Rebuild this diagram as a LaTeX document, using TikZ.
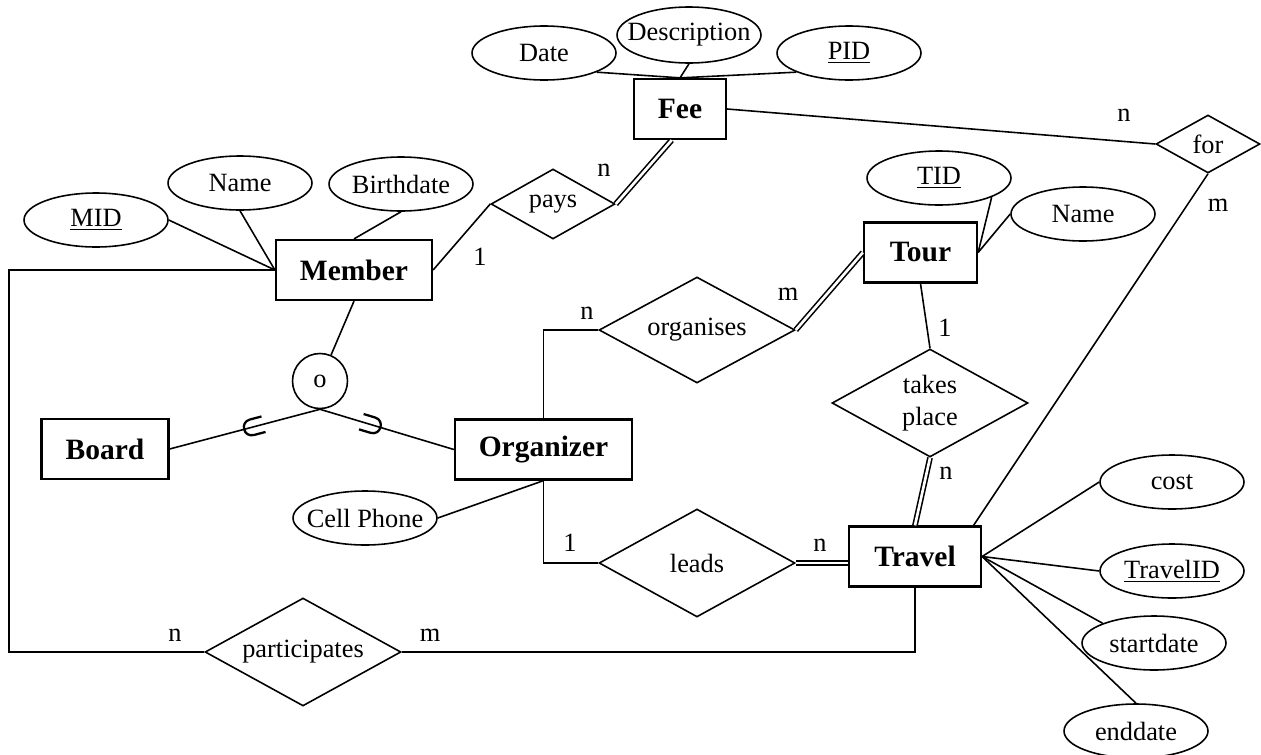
\documentclass[tikz,border=0pt]{standalone}
\usepackage{fontspec}
\setmainfont{Liberation Serif}
\usetikzlibrary{shapes.geometric}

\begin{document}
\begin{tikzpicture}[
    x=0.02cm, y=-0.02cm,
    every node/.style={font=\fontsize{15}{18}\selectfont},
    entity/.style={draw, line width=1.3pt, minimum height=1.2cm, inner sep=0pt,
      font=\fontsize{16.8}{20}\selectfont\bfseries},
    attr/.style={draw, ellipse, line width=0.9pt, minimum width=2.88cm,
      minimum height=1.08cm, inner xsep=-8pt, inner ysep=0pt},
    rel/.style={draw, diamond, line width=0.9pt, aspect=1.8,
      minimum width=3.92cm, minimum height=2.16cm, inner sep=0pt},
    link/.style={line width=0.9pt},
    total/.style={double, double distance=1.5pt, line width=0.9pt},
    subset/.pic={\draw[line width=1.3pt] (-10,-8) -- (2,-8)
      .. controls (12.7,-8) and (12.7,8) .. (2,8) -- (-10,8);}
  ]
  \useasboundingbox (0,0) rectangle (1261,754);

  % Entities
  \node[entity, minimum width=3.12cm] (member) at (354,270) {Member};
  \node[entity, minimum width=2.54cm] (board) at (105,449) {Board};
  \node[entity, minimum width=3.54cm] (organizer) at (543.5,449.5) {Organizer};
  \node[entity, minimum width=1.84cm] (fee) at (680,109) {Fee};
  \node[entity, minimum width=2.26cm] (tour) at (920.5,252.5) {Tour};
  \node[entity, minimum width=2.64cm] (travel) at (915,556.5) {Travel};

  % Attributes
  \node[attr] (mid) at (96,220) {\underline{MID}};
  \node[attr] (mname) at (240,183) {Name};
  \node[attr] (birthdate) at (401,184) {Birthdate};
  \node[attr] (date) at (544,53) {Date};
  \node[attr, minimum height=1.12cm] (description) at (689,35) {Description};
  \node[attr] (pid) at (849,53) {\underline{PID}};
  \node[attr] (tid) at (939,178) {\underline{TID}};
  \node[attr] (tname) at (1083,214) {Name};
  \node[attr] (cellphone) at (365,518) {Cell Phone};
  \node[attr] (cost) at (1172,482) {cost};
  \node[attr] (travelid) at (1172,571) {\underline{TravelID}};
  \node[attr] (startdate) at (1154,643) {startdate};
  \node[attr] (enddate) at (1136,731) {enddate};

  % Relationships
  \node[rel, minimum width=2.48cm, minimum height=1.4cm] (pays) at (553,204) {pays};
  \node[rel, minimum width=2.08cm, minimum height=1.16cm] (for) at (1208,144) {for};
  \node[rel, minimum height=2.12cm] (organises) at (697,330) {organises};
  \node[rel, align=center] (takes) at (930,403) {takes\\place};
  \node[rel] (leads) at (697,563) {leads};
  \node[rel] (participates) at (303,652) {participates};

  % Specialisation circle
  \node[draw, circle, line width=0.9pt, minimum size=1.1cm, inner sep=0pt] (overlap) at (320,381) {o};

  % Attribute links
  \draw[link] (mid.east) -- (member.west);
  \draw[link] (mname.south) -- (member.west);
  \draw[link] (birthdate.south) -- (member.north);
  \draw[link] (date.-20) -- (fee.north);
  \draw[link] (description.south) -- (fee.north);
  \draw[link] (pid.200) -- (fee.north);
  \draw[link] (tid.-20) -- (tour.east);
  \draw[link] (tname.west) -- (tour.east);
  \draw[link] (cellphone.east) -- (organizer.south);
  \draw[link] (travel.east) -- (cost.west);
  \draw[link] (travel.east) -- (travelid.west);
  \draw[link] (travel.east) -- (startdate.159);
  \draw[link] (travel.east) -- (enddate.north);

  % Relationship links
  \draw[link] (member.east) -- (pays.west);
  \draw[total] (pays.east) -- (fee.255);
  \draw[link] (fee.east) -- (for.west);
  \draw[link] (for.south) -- (travel.28);
  \draw[link] (organizer.north) |- (organises.west);
  \draw[total] (organises.east) -- (tour.west);
  \draw[link] (tour.south) -- (takes.north);
  \draw[total] (takes.south) -- (travel.north);
  \draw[link] (organizer.south) |- (leads.west);
  \draw[total] (leads.east) -- (leads.east -| travel.west);
  \coordinate (pcorner) at (9,652);
  \draw[link] (member.west) -| (pcorner) -- (participates.west);
  \draw[link] (participates.east) -| (travel.south);

  % Specialisation links
  \draw[link] (member.south) -- (overlap);
  \draw[link] (overlap.south) -- pic[pos=0.44, sloped, allow upside down] {subset} (board.east);
  \draw[link] (overlap.south) -- pic[pos=0.38, sloped, allow upside down] {subset} (organizer.west);

  % Cardinalities
  \node (card1) at (480,257) {1};
  \node (card2) at (604,170) {n};
  \node (card3) at (1124,115) {n};
  \node (card4) at (1218,205) {m};
  \node (card5) at (587,313) {n};
  \node (card6) at (788,294) {m};
  \node (card7) at (945,328) {1};
  \node (card8) at (946,473) {n};
  \node (card9) at (570,543) {1};
  \node (card10) at (820,545) {n};
  \node (card11) at (175,635) {n};
  \node (card12) at (430,635) {m};

\end{tikzpicture}
\end{document}
